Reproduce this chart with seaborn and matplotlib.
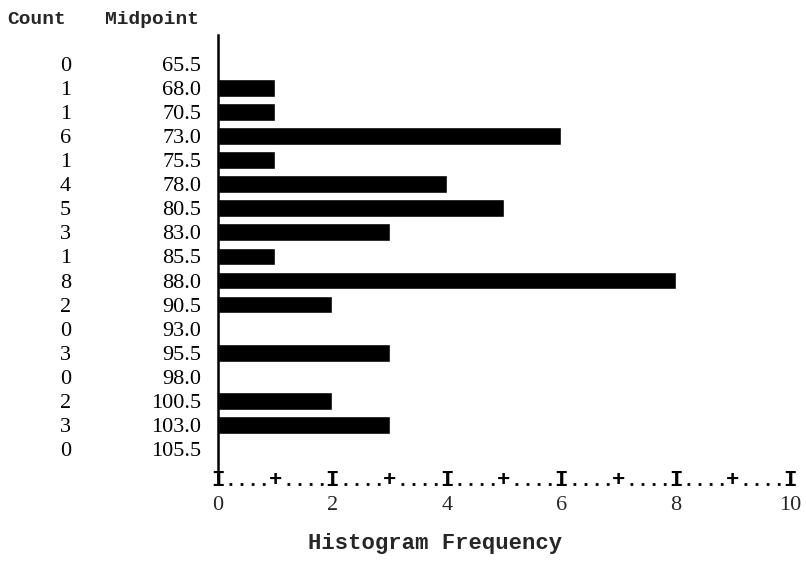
"""
Histograma de frequencia (estilo listagem de terminal)
"""

import matplotlib
matplotlib.use("Agg")
import matplotlib.pyplot as plt
import matplotlib.transforms as mtransforms
import seaborn as sns
import pandas as pd

# ── Dados ──────────────────────────────────────────────────────────────────────
midpoints = ["65.5", "68.0", "70.5", "73.0", "75.5", "78.0", "80.5", "83.0", "85.5",
             "88.0", "90.5", "93.0", "95.5", "98.0", "100.5", "103.0", "105.5"]
counts = [0, 1, 1, 6, 1, 4, 5, 3, 1, 8, 2, 0, 3, 0, 2, 3, 0]
x_ticks = [0, 2, 4, 6, 8, 10]

df = pd.DataFrame({"midpoint": midpoints, "count": counts})

# ── Estilo ─────────────────────────────────────────────────────────────────────
sns.set_theme(style="white")
plt.rcParams.update({
    "figure.facecolor": "white",
    "axes.facecolor":   "white",
})
MONO = "Liberation Mono"
SERIF = "Liberation Serif"

fig = plt.figure(figsize=(8.06, 5.63), dpi=100)
ax = fig.add_axes([0.2705, 0.151, 0.7095, 0.787])

sns.barplot(data=df, x="count", y="midpoint", order=midpoints, orient="h",
            color="black", width=0.74, saturation=1, ax=ax)

ax.set_xlim(0, 10)
for s in ["top", "right", "bottom"]:
    ax.spines[s].set_visible(False)
ax.spines["left"].set_color("black")
ax.spines["left"].set_linewidth(1.8)

ax.set_ylabel("")
ax.set_xlabel("")
ax.tick_params(axis="y", length=0, pad=12, labelsize=16)
for lbl in ax.get_yticklabels():
    lbl.set_fontfamily(SERIF)
    lbl.set_color("black")

# eixo x desenhado como na listagem: I....+....I
ax.set_xticks(x_ticks)
ax.set_xticklabels([str(t) for t in x_ticks], fontfamily=SERIF, fontsize=16)
ax.tick_params(axis="x", length=0, pad=13)
trans_x = mtransforms.blended_transform_factory(ax.transData, ax.transAxes)
for v in range(0, 10):
    ax.plot([v + 0.2, v + 0.85], [-0.014, -0.014], transform=trans_x,
            clip_on=False, color="black", linestyle=(0, (1, 3)), linewidth=2.0)
for v in range(0, 11):
    ax.text(v, -0.005, "I" if v % 2 == 0 else "+", transform=trans_x,
            ha="center", va="center", fontfamily=MONO, fontsize=16,
            fontweight="bold", color="black")
fig.text(0.54, 0.035, "Histogram Frequency", ha="center", va="center",
         fontfamily=MONO, fontsize=16, fontweight="bold")

# colunas de cabeçalho e contagens
fig.text(0.045, 0.965, "Count", ha="center", va="center",
         fontfamily=MONO, fontsize=14, fontweight="bold")
fig.text(0.188, 0.965, "Midpoint", ha="center", va="center",
         fontfamily=MONO, fontsize=14, fontweight="bold")
trans_y = mtransforms.blended_transform_factory(fig.transFigure, ax.transData)
for i, c in enumerate(counts):
    ax.text(0.081, i, str(c), transform=trans_y, ha="center",
            va="center_baseline", fontfamily=SERIF, fontsize=16,
            color="black", clip_on=False)

fig.savefig("out.png", dpi=100)
plt.close(fig)
